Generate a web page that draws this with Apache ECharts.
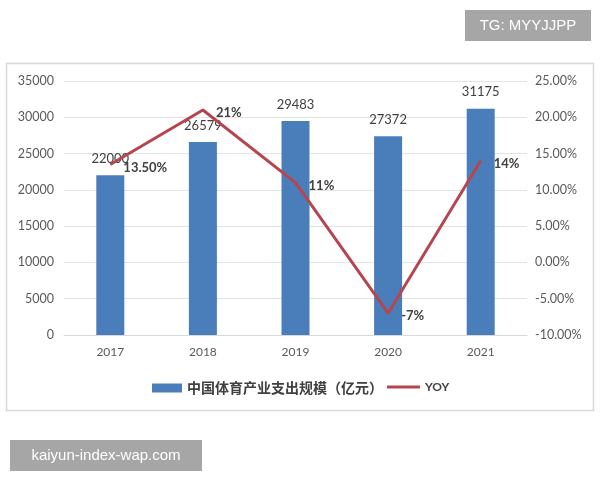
<!DOCTYPE html>
<html><head><meta charset="utf-8">
<script src="https://cdn.jsdelivr.net/npm/echarts@6/dist/echarts.min.js"></script>
<style>html,body{margin:0;padding:0;background:#fff}#c{width:600px;height:480px}</style>
</head><body><div id="c"></div>
<script>
const categories = ['2017', '2018', '2019', '2020', '2021'];
const spending = [22000, 26579, 29483, 27372, 31175];
const yoy = [13.5, 21, 11, -7, 14];
const yoyLabels = ['13.50%', '21%', '11%', '-7%', '14%'];
const barName = '中国体育产业支出规模（亿元）';
const lineName = 'YOY';

const font = 'Lato, "Noto Sans CJK SC", sans-serif';
const lineColor = '#b5464f';
const chart = echarts.init(document.getElementById('c'));
chart.setOption({
  animation: false,
  backgroundColor: '#fff',
  textStyle: { fontFamily: font },
  graphic: [
    { type: 'rect', shape: { x: 6.5, y: 63.5, width: 587, height: 347 }, style: { fill: 'none', stroke: '#d9d9d9', lineWidth: 1.5 }, z: -10 },
    { type: 'rect', shape: { x: 465, y: 10, width: 126, height: 31 }, style: { fill: '#a6a6a6' } },
    { type: 'text', x: 528, y: 25.5, style: { text: 'TG: MYYJJPP', fill: '#fff', font: '15px "Liberation Sans", sans-serif', align: 'center', verticalAlign: 'middle' } },
    { type: 'rect', shape: { x: 10, y: 440, width: 192, height: 31 }, style: { fill: '#a6a6a6' } },
    { type: 'text', x: 106, y: 455.5, style: { text: 'kaiyun-index-wap.com', fill: '#fff', font: '15px "Liberation Sans", sans-serif', align: 'center', verticalAlign: 'middle' } }
  ],
  grid: { left: 64, right: 73, top: 81, bottom: 145 },
  legend: [
    {
      top: 376, left: 147,
      itemWidth: 30, itemHeight: 9, itemGap: 6,
      textStyle: { fontSize: 14, fontWeight: 'bold', color: '#404040', fontFamily: font },
      data: [{ name: barName, icon: 'rect' }]
    },
    {
      top: 376, left: 382,
      itemWidth: 33, itemHeight: 3, itemGap: 4,
      textStyle: { fontSize: 12, fontWeight: 'bold', color: '#404040', fontFamily: font },
      data: [{ name: lineName, icon: 'rect' }]
    }
  ],
  xAxis: {
    type: 'category',
    data: categories,
    axisTick: { show: false },
    axisLine: { lineStyle: { color: '#d9d9d9', width: 1 } },
    axisLabel: { color: '#595959', fontSize: 12, margin: 11 }
  },
  yAxis: [
    {
      type: 'value', min: 0, max: 35000, interval: 5000,
      axisLine: { show: false }, axisTick: { show: false },
      splitLine: { lineStyle: { color: '#e3e3e3' } },
      axisLabel: { color: '#595959', fontSize: 12.5, margin: 10, formatter: v => String(v) }
    },
    {
      type: 'value', min: -10, max: 25, interval: 5,
      axisLine: { show: false }, axisTick: { show: false },
      splitLine: { show: false },
      axisLabel: { color: '#595959', fontSize: 12.5, margin: 8, formatter: v => v.toFixed(2) + '%' }
    }
  ],
  series: [
    {
      name: barName, type: 'bar', data: spending, barWidth: 28,
      itemStyle: { color: '#4a7ebb' },
      label: { show: true, position: 'top', distance: 10, color: '#404040', fontSize: 13, fontFamily: font }
    },
    {
      name: lineName, type: 'line', yAxisIndex: 1, data: yoy,
      symbol: 'circle', symbolSize: 0.1, showSymbol: true,
      lineStyle: { color: lineColor, width: 3 },
      itemStyle: { color: lineColor },
      label: { show: true, position: 'right', distance: 13, offset: [0, 3], color: '#404040', fontSize: 13, fontWeight: 'bold', fontFamily: font,
        formatter: p => yoyLabels[p.dataIndex] },
      z: 5
    }
  ]
});
</script></body></html>
